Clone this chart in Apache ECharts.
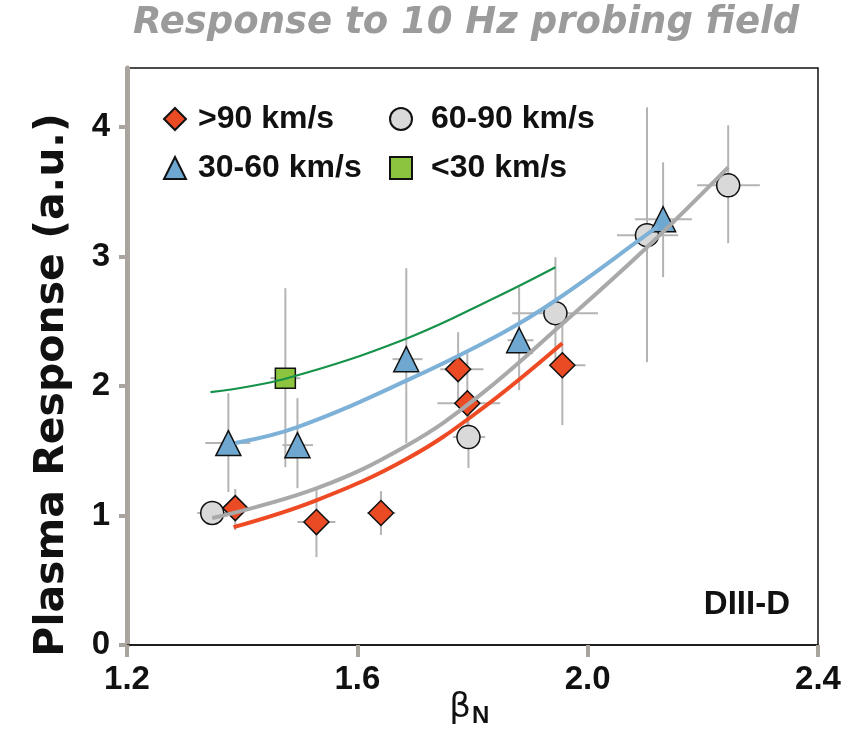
<!DOCTYPE html>
<html><head><meta charset="utf-8">
<script src="https://cdn.jsdelivr.net/npm/echarts@6/dist/echarts.min.js"></script>
<style>html,body{margin:0;padding:0;background:#fff}#c{width:851px;height:729px}</style>
</head><body><div id="c"></div>
<script>
// ---- axis ticks ----
const xTicks = [1.2, 1.6, 2.0, 2.4];
const yTicks = [0, 1, 2, 3, 4];

// ---- >90 km/s (diamonds) ----
const fastX   = [1.388, 1.529, 1.641, 1.775, 1.791, 1.956];
const fastY   = [1.057, 0.949, 1.019, 2.130, 1.867, 2.160];
const fastXLo = [1.362, 1.496, 1.617, 1.744, 1.739, 1.935];
const fastXHi = [1.414, 1.562, 1.666, 1.819, 1.848, 1.996];
const fastYLo = [0.887, 0.679, 0.849, 1.880, 1.620, 1.698];
const fastYHi = [1.204, 1.211, 1.188, 2.415, 2.253, 2.531];

// ---- 60-90 km/s (circles) ----
const midX   = [1.348, 1.793, 1.944, 2.103, 2.244];
const midY   = [1.019, 1.605, 2.562, 3.164, 3.549];
const midXLo = [1.322, 1.766, 1.869, 2.051, 2.190];
const midXHi = [1.374, 1.822, 2.018, 2.157, 2.299];
const midYLo = [1.000, 1.366, 2.200, 2.184, 3.102];
const midYHi = [1.040, 1.850, 2.994, 4.151, 4.012];

// ---- 30-60 km/s (triangles) ----
const slowX   = [1.376, 1.496, 1.685, 1.881, 2.131];
const slowY   = [1.559, 1.543, 2.207, 2.353, 3.287];
const slowXLo = [1.336, 1.470, 1.661, 1.861, 2.082];
const slowXHi = [1.414, 1.523, 1.713, 1.906, 2.181];
const slowYLo = [1.181, 1.211, 1.559, 1.968, 2.840];
const slowYHi = [1.944, 1.906, 2.909, 2.762, 3.727];

// ---- <30 km/s (squares) ----
const vslowX   = [1.475];
const vslowY   = [2.060];
const vslowXLo = [1.449];
const vslowXHi = [1.501];
const vslowYLo = [1.373];
const vslowYHi = [2.755];

// ---- fit curves ----
const greenFitX = [1.345, 1.478, 1.687, 1.848, 1.944];
const greenFitY = [1.952, 2.060, 2.369, 2.701, 2.917];
const blueFitX  = [1.388, 1.496, 1.687, 1.848, 1.944, 2.103, 2.121];
const blueFitY  = [1.559, 1.682, 2.045, 2.400, 2.660, 3.170, 3.230];
const grayFitX  = [1.348, 1.530, 1.687, 1.813, 1.956, 2.103, 2.244];
const grayFitY  = [0.980, 1.211, 1.543, 1.929, 2.480, 3.071, 3.688];
const redFitX   = [1.385, 1.530, 1.687, 1.813, 1.956];
const redFitY   = [0.910, 1.119, 1.440, 1.813, 2.330];

const names = ['>90 km/s', '60-90 km/s', '30-60 km/s', '<30 km/s'];

const zip = (...a) => a[0].map((_, i) => a.map(arr => arr[i]));
const SANS = "'Liberation Sans', Arial, sans-serif";
const AX_GRAY = '#aaa49e';
const BAR = '#b4b4b4';

function errSeries(x, y, xl, xh, yl, yh) {
  return {
    type: 'custom', z: 1, silent: true,
    data: zip(x, y, xl, xh, yl, yh),
    encode: { x: 0, y: 1 },
    renderItem: function (params, api) {
      const xv = api.value(0), yv = api.value(1);
      const a = api.coord([api.value(2), yv]), b = api.coord([api.value(3), yv]);
      const c = api.coord([xv, api.value(4)]), d = api.coord([xv, api.value(5)]);
      const st = { stroke: BAR, lineWidth: 2 };
      return { type: 'group', children: [
        { type: 'line', shape: { x1: a[0], y1: a[1], x2: b[0], y2: b[1] }, style: st },
        { type: 'line', shape: { x1: c[0], y1: c[1], x2: d[0], y2: d[1] }, style: st }
      ]};
    }
  };
}
function pts(name, x, y, symbol, size, color) {
  return {
    name, type: 'scatter', z: 3, symbol, symbolSize: size,
    data: zip(x, y),
    itemStyle: { color, borderColor: '#111', borderWidth: 1.5, opacity: 1 }
  };
}
function fit(x, y, color, w) {
  return {
    type: 'line', z: 4, smooth: 0.4, showSymbol: false, silent: true,
    data: zip(x, y), lineStyle: { color, width: w }
  };
}
function leg(name, left, top, gap) {
  return {
    data: [name], left, top, padding: 0, itemWidth: 22, itemHeight: 22,
    selectedMode: false,
    textStyle: { fontFamily: SANS, fontWeight: 'bold', fontSize: 32, color: '#111', padding: [0, 0, 0, gap] }
  };
}

const chart = echarts.init(document.getElementById('c'), null, { renderer: 'canvas' });
chart.setOption({
  animation: false,
  backgroundColor: '#fff',
  title: {
    text: 'Response to 10 Hz probing field', left: 133, top: 5, padding: 0,
    textStyle: { fontFamily: "'DejaVu Sans', sans-serif", fontSize: 37, fontWeight: 'bold', fontStyle: 'italic', color: '#9b9b9b' }
  },
  legend: [
    leg(names[0], 163, 103, 7),
    leg(names[1], 389, 103, 14),
    leg(names[2], 163, 152, 7),
    leg(names[3], 389, 152, 14)
  ],
  grid: { left: 127, right: 33, top: 68, bottom: 84, show: true, borderColor: '#111', borderWidth: 1.5, backgroundColor: 'transparent' },
  xAxis: {
    type: 'value', min: 1.2, max: 2.4, interval: 0.4,
    axisLine: { lineStyle: { color: '#111', width: 1.5 } },
    axisTick: { length: 12, lineStyle: { color: AX_GRAY, width: 4 } },
    axisLabel: { margin: 18, fontFamily: SANS, fontWeight: 'bold', fontSize: 33, color: '#111',
      formatter: v => v.toFixed(1) },
    splitLine: { show: false }
  },
  yAxis: {
    type: 'value', min: 0, max: 4.455, interval: 1,
    axisLine: { lineStyle: { color: AX_GRAY, width: 5 } },
    axisTick: { length: 8, customValues: yTicks, lineStyle: { color: AX_GRAY, width: 4 } },
    axisLabel: { margin: 17, customValues: yTicks, fontFamily: SANS, fontWeight: 'bold', fontSize: 33, color: '#111' },
    splitLine: { show: false }
  },
  graphic: [
    { type: 'text', x: 52, y: 385, rotation: Math.PI / 2,
      style: { text: 'Plasma Response (a.u.)', font: "bold 41px 'DejaVu Sans', sans-serif", fill: '#111', textAlign: 'center', textVerticalAlign: 'middle' } },
    { type: 'text', x: 790, y: 605,
      style: { text: 'DIII-D', font: 'bold 33px ' + SANS, fill: '#111', textAlign: 'right', textVerticalAlign: 'middle' } },
    { type: 'text', x: 471, y: 708,
      style: { text: 'β', font: "34px 'DejaVu Sans', sans-serif", fill: '#111', textAlign: 'right', textVerticalAlign: 'middle' } },
    { type: 'text', x: 472, y: 716,
      style: { text: 'N', font: 'bold 24px ' + SANS, fill: '#111', textAlign: 'left', textVerticalAlign: 'middle' } }
  ],
  series: [
    errSeries(fastX, fastY, fastXLo, fastXHi, fastYLo, fastYHi),
    errSeries(midX, midY, midXLo, midXHi, midYLo, midYHi),
    errSeries(slowX, slowY, slowXLo, slowXHi, slowYLo, slowYHi),
    errSeries(vslowX, vslowY, vslowXLo, vslowXHi, vslowYLo, vslowYHi),
    pts(names[0], fastX, fastY, 'diamond', 25, '#ea4a24'),
    pts(names[1], midX, midY, 'circle', 23, '#d9d9d9'),
    pts(names[2], slowX, slowY, 'triangle', 25, '#6ea7cf'),
    pts(names[3], vslowX, vslowY, 'rect', 20, '#8cc43f'),
    fit(greenFitX, greenFitY, '#17924a', 2.2),
    fit(blueFitX, blueFitY, '#7db1d7', 4),
    fit(grayFitX, grayFitY, '#a9a9a9', 4),
    fit(redFitX, redFitY, '#ee4a23', 4)
  ]
});
</script></body></html>
